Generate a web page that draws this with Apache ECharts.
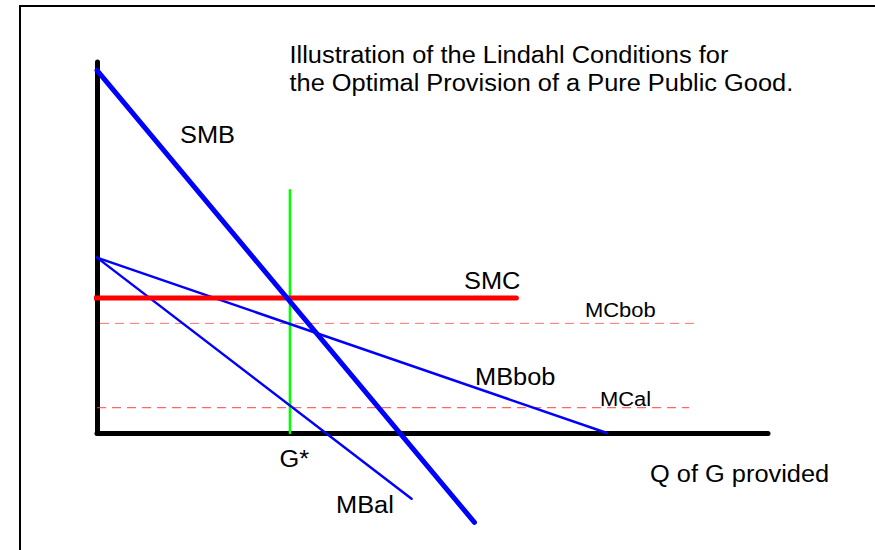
<!DOCTYPE html>
<html>
<head>
<meta charset="utf-8">
<script src="https://cdn.jsdelivr.net/npm/echarts@6/dist/echarts.min.js"></script>
<style>
html,body{margin:0;padding:0;background:#fff;overflow:hidden;}
#chart{width:875px;height:550px;}
</style>
</head>
<body>
<div id="chart"></div>
<script>
// ---- data (quantity Q, price P) ----
const Q_MAX = 40;
const P_MAX = 22;
const smbQ = [0, 22.5];      const smbP = [21.5, -5.3];
const mbbobQ = [0, 30.4];    const mbbobP = [10.4, 0];
const mbalQ = [0, 18.75];    const mbalP = [10.4, -3.9];
const smcQ = [-0.1, 25.0];   const smcP = [8, 8];
const mcbobQ = [0.18, 35.75];const mcbobP = [6.5, 6.5];
const mcalQ = [0, 35.3];     const mcalP = [1.5, 1.5];
const gStarQ = [11.5, 11.5]; const gStarP = [0, 14.4];
const titleLines = ['Illustration of the Lindahl Conditions for', 'the Optimal Provision of a Pure Public Good.'];
const labels = ['SMB', 'SMC', 'MCbob', 'MBbob', 'MCal', 'G*', 'MBal', 'Q of G provided'];

const FONT = '"Liberation Sans", Arial, Helvetica, sans-serif';
const pairs = (q, p) => q.map((v, i) => [v, p[i]]);

function seg(name, q, p, color, width, dashed) {
  return {
    name: name, type: 'line', data: pairs(q, p), symbol: 'none', clip: false,
    silent: true, animation: false,
    lineStyle: { color: color, width: width, type: dashed ? [9, 6] : 'solid', cap: dashed ? 'butt' : 'round' },
    z: dashed ? 3 : 4
  };
}

function txt(text, x, y, size) {
  return { type: 'text', x: x, y: y, scaleX: 1.045, silent: true,
    style: { text: text, fill: '#000', font: size + 'px ' + FONT, align: 'left', verticalAlign: 'middle' } };
}

const chart = echarts.init(document.getElementById('chart'), null, { renderer: 'svg' });
chart.setOption({
  backgroundColor: '#fff',
  animation: false,
  grid: { left: 97, top: 62, right: 107, bottom: 117 },
  xAxis: { type: 'value', min: 0, max: Q_MAX, axisLabel: { show: false }, axisTick: { show: false }, splitLine: { show: false },
    axisLine: { show: true, onZero: false, lineStyle: { color: '#000', width: 5, cap: 'round' } } },
  yAxis: { type: 'value', min: 0, max: P_MAX, axisLabel: { show: false }, axisTick: { show: false }, splitLine: { show: false },
    axisLine: { show: true, onZero: false, lineStyle: { color: '#000', width: 5, cap: 'round' } } },
  series: [
    seg('MCbob', mcbobQ, mcbobP, '#ff7070', 1, true),
    seg('MCal', mcalQ, mcalP, '#ff4040', 1, true),
    seg('G*', gStarQ, gStarP, '#00ff00', 2.5, false),
    seg('MBbob', mbbobQ, mbbobP, '#0000ff', 2.5, false),
    seg('MBal', mbalQ, mbalP, '#0000ff', 2.5, false),
    seg('SMC', smcQ, smcP, '#ff0000', 5, false),
    seg('SMB', smbQ, smbP, '#0000ff', 5, false)
  ],
  graphic: [
    { type: 'rect', silent: true, shape: { x: 20, y: 6, width: 1000, height: 800 },
      style: { stroke: '#000', lineWidth: 2, fill: 'none' } },
    txt(titleLines[0], 289.5, 55, 24.3),
    txt(titleLines[1], 289.5, 82.2, 24.3),
    txt(labels[0], 180, 135, 24.3),
    txt(labels[1], 464, 280.2, 24.3),
    txt(labels[2], 585, 310.5, 21),
    txt(labels[3], 475, 377, 24.3),
    txt(labels[4], 600, 399.5, 21),
    txt(labels[5], 279.5, 458.5, 24.3),
    txt(labels[6], 336, 504.5, 24.3),
    txt(labels[7], 650, 473.3, 24.3)
  ]
});
</script>
</body>
</html>
